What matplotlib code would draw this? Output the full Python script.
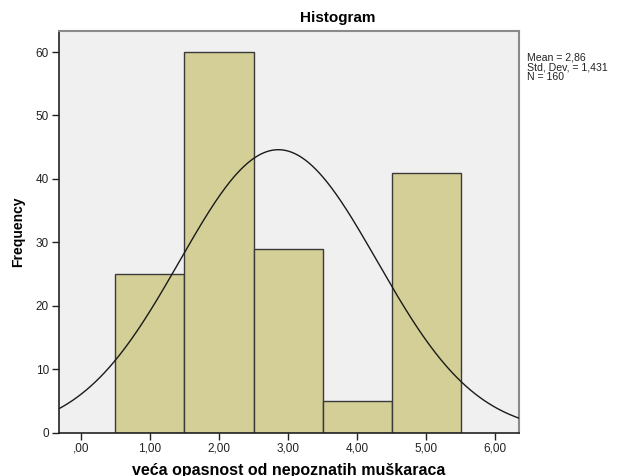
import numpy as np
import matplotlib
matplotlib.use("Agg")
import matplotlib.pyplot as plt

plt.rcParams['font.family'] = ['Liberation Sans', 'DejaVu Sans']

bin_centers = [1, 2, 3, 4, 5]
frequencies = [25, 60, 29, 5, 41]
mean_val = 2.86
std_val = 1.431
n_val = 160
xtick_vals = [0, 1, 2, 3, 4, 5, 6]
xtick_labels = [",00", "1,00", "2,00", "3,00", "4,00", "5,00", "6,00"]
ytick_vals = [0, 10, 20, 30, 40, 50, 60]

W, H = 618, 476
left_px, right_px, top_px, bottom_px = 58.7, 518.7, 30.7, 432.7

fig = plt.figure(figsize=(W / 100, H / 100), dpi=100)
ax = fig.add_axes([left_px / W, 1 - bottom_px / H,
                   (right_px - left_px) / W, (bottom_px - top_px) / H])
ax.set_facecolor('#f0f0f0')

ax.bar(bin_centers, frequencies, width=1.0, color='#d3cf97',
       edgecolor='#3a3a3a', linewidth=1.0, zorder=2)

xlim = (-0.323, 6.343)
xs = np.linspace(xlim[0], xlim[1], 400)
ys = n_val * 1.0 / (std_val * np.sqrt(2 * np.pi)) * np.exp(-0.5 * ((xs - mean_val) / std_val) ** 2)
ax.plot(xs, ys, color='#1a1a1a', linewidth=1.0, zorder=3)

ax.set_xlim(*xlim)
ax.set_ylim(0, 63.36)
ax.set_xticks(xtick_vals)
ax.set_xticklabels(xtick_labels)
ax.set_yticks(ytick_vals)
ax.tick_params(axis='both', labelsize=8.5, length=5, width=1, color='#222222',
               labelcolor='#222222', pad=2)

for s in ['left', 'bottom']:
    ax.spines[s].set_color('#222222')
    ax.spines[s].set_linewidth(1.2)
for s in ['top', 'right']:
    ax.spines[s].set_color('#8a8a8a')
    ax.spines[s].set_linewidth(1.5)

ax.set_ylabel("Frequency", fontsize=10, fontweight='bold')
ax.yaxis.set_label_coords((18 - left_px) / (right_px - left_px), 0.5)
ax.yaxis.label.set_va('center')
ax.set_xlabel("veća opasnost od nepoznatih muškaraca", fontsize=11.5,
              fontweight='bold')
ax.xaxis.set_label_coords(0.5, -(470 - bottom_px) / (bottom_px - top_px))
ax.xaxis.label.set_va('center')

fig.text(338 / W, 1 - 18 / H, "Histogram", fontsize=11, fontweight='bold',
         ha='center', va='center')

fig.text(527 / W, 1 - 52 / H,
         f"Mean = {mean_val:.2f}".replace('.', ',') + "\n"
         + f"Std. Dev. = {std_val:.3f}".replace('.', ',') + "\n"
         + f"N = {n_val}",
         fontsize=7.6, ha='left', va='top', linespacing=1.0, color='#222222')

fig.savefig("out.png", dpi=100, facecolor='white')
